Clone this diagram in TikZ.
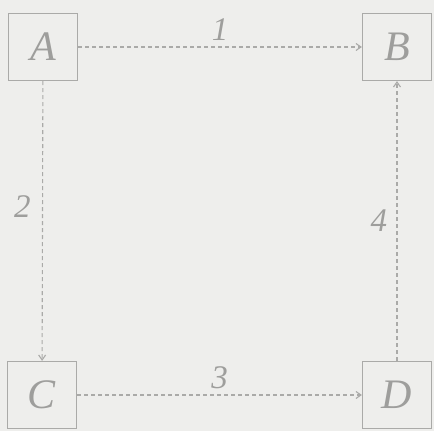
\documentclass[tikz,border=0pt]{standalone}
\usepackage{fontspec}
\setmainfont{Liberation Serif}
\usetikzlibrary{arrows.meta,calc}
\definecolor{PaperClr}{RGB}{238,238,236}
\definecolor{InkClr}{RGB}{170,170,168}
\definecolor{TextClr}{RGB}{158,158,156}

\begin{document}
\begin{tikzpicture}[x=1pt,y=-1pt,
  corner/.style={draw=InkClr,line width=1.2pt,minimum width=69pt,minimum height=67pt,
    inner sep=0pt,text=TextClr,font=\fontsize{42}{46}\selectfont\itshape},
  link/.style={draw=InkClr,line width=1.1pt,dash pattern=on 4pt off 3pt,
    -{Straight Barb[length=5pt,width=7pt]}},
  num/.style={text=TextClr,font=\fontsize{33}{36}\selectfont\itshape}]
\fill[PaperClr] (0,0) rectangle (434,431);

\node[corner] (A) at (43,47) {A};
\node[corner] (B) at (397,47) {B};
\node[corner] (C) at (42,395) {C};
\node[corner] (D) at (397,395) {D};

\draw[link] (A) -- node[num,above=3pt] {1} (B);
\draw[link] (A) -- node[num,left=8pt,pos=.45] {2} (C);
\draw[link] (C) -- node[num,above=2pt] {3} (D);
\draw[link] (D) -- node[num,left=6pt] {4} (B);

\end{tikzpicture}
\end{document}
